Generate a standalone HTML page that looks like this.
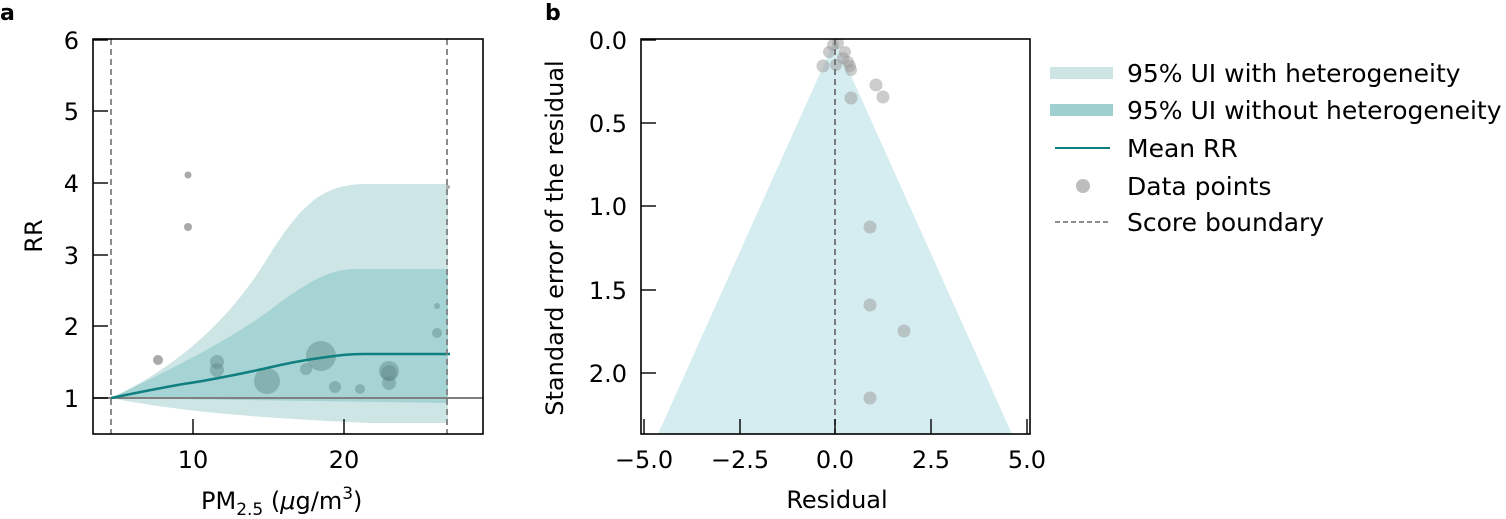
<!DOCTYPE html>
<html><head><meta charset="utf-8"><style>
html,body{margin:0;padding:0;background:#fff}
svg{display:block}
text{font-family:"DejaVu Sans","Liberation Sans",sans-serif;fill:#000}
</style></head><body>
<svg width="1506" height="519" viewBox="0 0 1506 519" xmlns="http://www.w3.org/2000/svg">
<!-- Panel a -->
<text x="0" y="20" font-size="22" font-weight="bold">a</text>
<clipPath id="ca"><rect x="93" y="39" width="390" height="395"/></clipPath>
<g clip-path="url(#ca)">
<path d="M111,398 C170,370 220,330 260,270 C300,205 320,184 367,184 L448,184 L448,423 L370,423 C250,418 170,410 111,398 Z" fill="#cde5e5"/>
<path d="M111,398 C170,370 230,340 270,310 C310,280 330,269 357,269 L448,269 L448,403 L111,398 Z" fill="#a6d3d3"/>
<line x1="93" y1="398" x2="483" y2="398" stroke="#808080" stroke-width="2"/>
<g fill="#5f8787" fill-opacity="0.45">
<circle cx="217" cy="362" r="7"/><circle cx="217" cy="370" r="7"/><circle cx="267" cy="381" r="13"/>
<circle cx="306" cy="369" r="6"/><circle cx="321" cy="356" r="15"/><circle cx="335" cy="387" r="6"/>
<circle cx="360" cy="389" r="5"/><circle cx="389" cy="371" r="10"/><circle cx="389" cy="383" r="7"/><circle cx="389" cy="373" r="8"/>
<circle cx="437" cy="306" r="3"/><circle cx="437" cy="333" r="5"/>
</g>
<g fill="#a9a9a9"><circle cx="158" cy="360" r="5"/><circle cx="188" cy="175" r="3.5"/><circle cx="188" cy="227" r="4"/><circle cx="448" cy="187" r="2"/></g>
<path d="M111,398 C150,390 170,386 190,383 S250,372 267,368 S305,360 320,358 S345,354 363,354 L450,354" fill="none" stroke="#0f7f7f" stroke-width="2.5"/>
</g>
<line x1="111" y1="39" x2="111" y2="434" stroke="#808080" stroke-width="1.8" stroke-dasharray="6,4"/>
<line x1="447" y1="39" x2="447" y2="434" stroke="#808080" stroke-width="1.8" stroke-dasharray="6,4"/>
<rect x="93" y="39" width="390" height="395" fill="none" stroke="#000" stroke-width="1.6"/>
<g stroke="#000" stroke-width="1.4">
<line x1="93" y1="40" x2="108" y2="40"/><line x1="93" y1="111" x2="108" y2="111"/><line x1="93" y1="183" x2="108" y2="183"/>
<line x1="93" y1="255" x2="108" y2="255"/><line x1="93" y1="326" x2="108" y2="326"/><line x1="93" y1="398" x2="108" y2="398"/>
<line x1="193" y1="434" x2="193" y2="419"/><line x1="344" y1="434" x2="344" y2="419"/>
</g>
<g font-size="24" text-anchor="end">
<text x="79" y="49">6</text><text x="79" y="120">5</text><text x="79" y="192">4</text>
<text x="79" y="264">3</text><text x="79" y="335">2</text><text x="79" y="407">1</text>
</g>
<g font-size="24" text-anchor="middle"><text x="193" y="468">10</text><text x="344" y="468">20</text></g>
<text x="42" y="236" font-size="24" text-anchor="middle" transform="rotate(-90 42 236)">RR</text>
<text x="201" y="509" font-size="24">PM<tspan font-size="17" dy="6">2.5</tspan><tspan dy="-6"> (</tspan><tspan font-style="italic">μ</tspan>g/m<tspan font-size="17" dy="-10">3</tspan><tspan dy="10">)</tspan></text>

<!-- Panel b -->
<text x="545" y="20" font-size="22" font-weight="bold">b</text>
<clipPath id="cb"><rect x="641" y="39" width="389" height="395"/></clipPath>
<g clip-path="url(#cb)">
<path d="M835,40 L1012,434 L658,434 Z" fill="#d5edf0"/>
<g fill="#9a9a9a" fill-opacity="0.5">
<circle cx="833" cy="45" r="6"/><circle cx="838" cy="43" r="6"/><circle cx="829" cy="52" r="6"/><circle cx="845" cy="52" r="6"/>
<circle cx="823" cy="66" r="6.5"/><circle cx="843" cy="58" r="6"/><circle cx="848" cy="62" r="6"/><circle cx="850" cy="66" r="6"/>
<circle cx="836" cy="65" r="6"/><circle cx="851" cy="70" r="6"/>
<circle cx="876" cy="85" r="6.5"/><circle cx="883" cy="97" r="6.5"/><circle cx="851" cy="98" r="6.5"/>
<circle cx="870" cy="227" r="6.5"/><circle cx="870" cy="305" r="6.5"/><circle cx="904" cy="331" r="6.5"/><circle cx="870" cy="398" r="6.5"/>
</g>
</g>
<line x1="835" y1="39" x2="835" y2="434" stroke="#707070" stroke-width="1.8" stroke-dasharray="6,4"/>
<rect x="641" y="39" width="389" height="395" fill="none" stroke="#000" stroke-width="1.6"/>
<g stroke="#000" stroke-width="1.4">
<line x1="641" y1="40" x2="656" y2="40"/><line x1="641" y1="123" x2="656" y2="123"/><line x1="641" y1="206" x2="656" y2="206"/>
<line x1="641" y1="290" x2="656" y2="290"/><line x1="641" y1="373" x2="656" y2="373"/>
<line x1="644" y1="434" x2="644" y2="419"/><line x1="740" y1="434" x2="740" y2="419"/><line x1="835" y1="434" x2="835" y2="419"/>
<line x1="931" y1="434" x2="931" y2="419"/><line x1="1027" y1="434" x2="1027" y2="419"/>
</g>
<g font-size="24" text-anchor="end">
<text x="627" y="49">0.0</text><text x="627" y="132">0.5</text><text x="627" y="215">1.0</text>
<text x="627" y="299">1.5</text><text x="627" y="382">2.0</text>
</g>
<g font-size="24" text-anchor="middle">
<text x="644" y="468">−5.0</text><text x="740" y="468">−2.5</text><text x="835" y="468">0.0</text>
<text x="931" y="468">2.5</text><text x="1027" y="468">5.0</text>
</g>
<text x="837" y="508" font-size="24" text-anchor="middle">Residual</text>
<text x="563" y="238" font-size="24" text-anchor="middle" transform="rotate(-90 563 238)">Standard error of the residual</text>

<!-- Legend -->
<rect x="1050" y="67" width="63" height="12" fill="#cde5e5"/>
<rect x="1050" y="104" width="63" height="12" fill="#9fcfcf"/>
<line x1="1055" y1="148" x2="1110" y2="148" stroke="#0f7f7f" stroke-width="2"/>
<circle cx="1083" cy="186" r="7" fill="#bdbdbd"/>
<line x1="1055" y1="222" x2="1110" y2="222" stroke="#808080" stroke-width="1.8" stroke-dasharray="5,3"/>
<g font-size="25">
<text x="1127" y="82">95% UI with heterogeneity</text>
<text x="1127" y="119">95% UI without heterogeneity</text>
<text x="1127" y="157">Mean RR</text>
<text x="1127" y="195">Data points</text>
<text x="1127" y="231">Score boundary</text>
</g>
</svg>
</body></html>
